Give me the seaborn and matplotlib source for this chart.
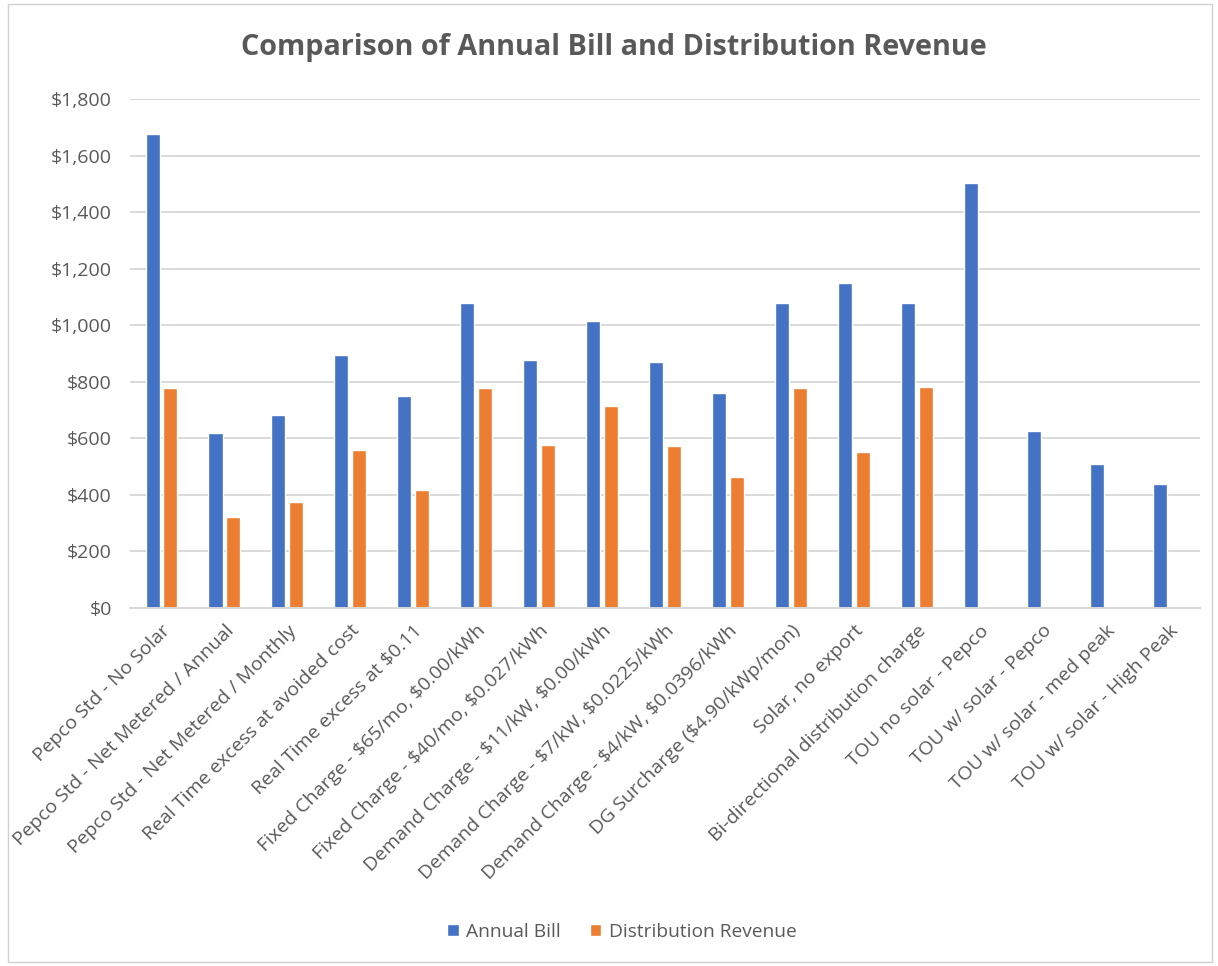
import matplotlib
matplotlib.use("Agg")
import matplotlib.pyplot as plt
import matplotlib.ticker as mticker
import seaborn as sns
import numpy as np
import pandas as pd

### chart values
CATEGORIES = ["Pepco Std - No Solar",
              "Pepco Std - Net Metered / Annual",
              "Pepco Std - Net Metered / Monthly",
              "Real Time excess at avoided cost",
              "Real Time excess at $0.11",
              "Fixed Charge - $65/mo, $0.00/kWh",
              "Fixed Charge - $40/mo, $0.027/kWh",
              "Demand Charge - $11/kW, $0.00/kWh",
              "Demand Charge - $7/kW, $0.0225/kWh",
              "Demand Charge - $4/kW, $0.0396/kWh",
              "DG Surcharge ($4.90/kWp/mon)",
              "Solar, no export",
              "Bi-directional distribution charge",
              "TOU no solar - Pepco",
              "TOU w/ solar - Pepco",
              "TOU w/ solar - med peak",
              "TOU w/ solar - High Peak"]
ANNUAL_BILL = [1675, 618, 682, 893, 749, 1078, 876, 1015, 871, 761,
               1078, 1150, 1078, 1502, 626, 509, 436]
DIST_REVENUE = [779, 321, 373, 559, 415, 779, 576, 715, 571, 461,
                779, 550, 782, np.nan, np.nan, np.nan, np.nan]
SERIES = ["Annual Bill", "Distribution Revenue"]
COLORS = ["#4472C4", "#ED7D31"]

TEXT = "#595959"
GRID = "#D9D9D9"

### long format table for seaborn
df = pd.DataFrame({
    "category": CATEGORIES * 2,
    "series": [SERIES[0]] * len(CATEGORIES) + [SERIES[1]] * len(CATEGORIES),
    "value": ANNUAL_BILL + DIST_REVENUE,
})

sns.set_style("white")
plt.rcParams["font.family"] = ["Open Sans", "DejaVu Sans"]
plt.rcParams["text.parse_math"] = False  # labels are full of "$"

fig = plt.figure(figsize=(12.18, 9.66), dpi=100)
W, H = 1218.0, 966.0
ax = fig.add_axes([130 / W, 1 - 607.7 / H, (1200 - 130) / W, (607.7 - 99) / H])

sns.barplot(data=df, x="category", y="value", hue="series",
            hue_order=SERIES, order=CATEGORIES, palette=COLORS,
            width=0.565, gap=0.21, errorbar=None, saturation=1,
            ax=ax, legend=True)

ax.set_xlim(-0.5, len(CATEGORIES) - 0.5)
ax.set_ylim(0, 1800)
ax.set_yticks(np.arange(0, 1801, 200))
ax.yaxis.set_major_formatter(mticker.StrMethodFormatter("${x:,.0f}"))
ax.grid(axis="y", color=GRID, linewidth=1.4)
ax.set_axisbelow(True)
ax.set_xlabel("")
ax.set_ylabel("")
for s in ["top", "right", "left"]:
    ax.spines[s].set_visible(False)
ax.spines["bottom"].set_color(GRID)
ax.spines["bottom"].set_linewidth(1.4)

ax.tick_params(axis="y", length=0, pad=13, labelsize=14, labelcolor=TEXT)
ax.tick_params(axis="x", length=0, pad=10, labelsize=14, labelcolor=TEXT)
plt.setp(ax.get_xticklabels(), rotation=45, ha="right",
         rotation_mode="anchor")

### legend at the bottom, centred
handles, labels = ax.get_legend_handles_labels()
ax.legend_.remove()
fig.legend(handles, labels, loc="center",
           bbox_to_anchor=(0.5 + 13 / W, 1 - 932 / H),
           ncol=2, frameon=False, fontsize=13.8, labelcolor=TEXT,
           handlelength=0.6, handleheight=0.6, handletextpad=0.4,
           columnspacing=1.5)

fig.text(0.5 + 5 / W, 1 - 48 / H,
         "Comparison of Annual Bill and Distribution Revenue",
         ha="center", va="center", fontsize=20.7, fontweight="bold", color=TEXT)

### thin chart-area border like the spreadsheet chart
fig.add_artist(plt.Rectangle((8 / W, 4 / H), 1 - 14 / W, 1 - 8 / H,
                             transform=fig.transFigure, fill=False,
                             edgecolor="#D0D0D0", linewidth=1))

fig.savefig("out.png", dpi=100)
